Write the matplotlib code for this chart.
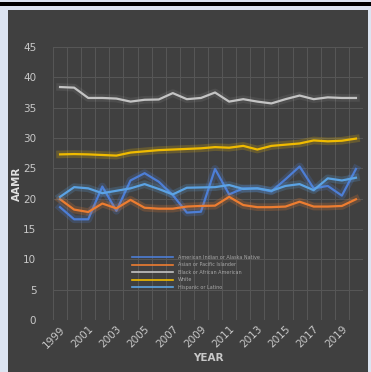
import numpy as np
import matplotlib
matplotlib.use("Agg")
import matplotlib.pyplot as plt
import matplotlib.patheffects as pe
from matplotlib.patches import Rectangle

# Data: age-adjusted mortality rate by race/ethnicity, 1999-2020

YEARS = list(range(1999, 2021))

AMERICAN_INDIAN = [18.6, 16.6, 16.6, 22.0, 18.0, 23.0, 24.2, 22.8, 20.6, 17.7, 17.85,
                   24.9, 20.7, 21.7, 21.7, 21.2, 23.2, 25.3, 21.7, 22.1, 20.5, 24.9]
ASIAN_PACIFIC   = [19.9, 18.2, 17.8, 19.2, 18.4, 19.8, 18.5, 18.35, 18.35, 18.7, 18.8,
                   18.85, 20.3, 18.95, 18.6, 18.6, 18.7, 19.5, 18.7, 18.7, 18.8, 19.9]
BLACK           = [38.4, 38.3, 36.6, 36.6, 36.5, 36.0, 36.3, 36.35, 37.4, 36.4, 36.6,
                   37.5, 36.0, 36.4, 36.0, 35.7, 36.4, 37.0, 36.4, 36.7, 36.6, 36.6]
WHITE           = [27.3, 27.35, 27.3, 27.2, 27.1, 27.6, 27.8, 28.0, 28.1, 28.2, 28.3,
                   28.5, 28.4, 28.7, 28.1, 28.7, 28.9, 29.1, 29.6, 29.45, 29.55, 29.9]
HISPANIC        = [20.3, 21.9, 21.7, 20.9, 21.3, 21.7, 22.4, 21.6, 20.7, 21.8, 21.85,
                   21.9, 22.25, 21.6, 21.7, 21.3, 22.1, 22.4, 21.4, 23.35, 23.0, 23.45]

SERIES = [
    ("American Indian or Alaska Native", AMERICAN_INDIAN, "#4d7ed6", 0.22),
    ("Asian or Pacific Islander",        ASIAN_PACIFIC,   "#ed7d31", 0.22),
    ("Black or African American",        BLACK,           "#c4c4c4", 0.10),
    ("White",                            WHITE,           "#f0bb00", 0.22),
    ("Hispanic or Latino",               HISPANIC,        "#5ba3e4", 0.22),
]

Y_TICKS = [0, 5, 10, 15, 20, 25, 30, 35, 40, 45]

PANEL  = "#404040"
TEXT   = "#c8c8c8"
GRID   = "#575757"

fig = plt.figure(figsize=(3.71, 3.72), dpi=100)
fig.patch.set_facecolor("#dce4f1")

# dark chart panel plus the thin black rule above it
fig.patches.append(Rectangle((8 / 371, 0), 360 / 371, 362 / 372,
                             transform=fig.transFigure, facecolor=PANEL,
                             edgecolor="none", zorder=-2))
fig.patches.append(Rectangle((0, 366 / 372), 1, 4 / 372,
                             transform=fig.transFigure, facecolor="#000000",
                             edgecolor="none", zorder=-2))

ax = fig.add_axes([53 / 371, 52 / 372, 310 / 371, 273 / 372])
ax.set_zorder(2)
ax.set_facecolor("none")

x = np.arange(len(YEARS))
for label, vals, color, glow in SERIES:
    ax.plot(x, vals, color=color, linewidth=1.6, label=label, zorder=3,
            solid_joinstyle="round",
            path_effects=[pe.Stroke(linewidth=5.5, foreground=color, alpha=glow),
                          pe.Normal()])

ax.set_xlim(-0.5, len(YEARS) - 0.5)
ax.set_ylim(0, 45)

# category-style grid: vertical lines between years, horizontal at each tick
for b in np.arange(-0.5, len(YEARS), 1.0):
    ax.axvline(b, color=GRID, linewidth=0.7, zorder=1)
for yv in Y_TICKS:
    ax.axhline(yv, color=GRID, linewidth=0.7, zorder=1)

ax.set_yticks(Y_TICKS)
ax.set_yticklabels([str(v) for v in Y_TICKS], color=TEXT, fontsize=7.5)
ax.set_xticks(x[::2])
ax.set_xticklabels([str(y) for y in YEARS[::2]], color=TEXT, fontsize=7.5,
                   rotation=45, ha="right", rotation_mode="anchor")
ax.tick_params(length=0)
ax.tick_params(axis="x", pad=3)
ax.tick_params(axis="y", pad=12)
for s in ax.spines.values():
    s.set_visible(False)

ax.set_xlabel("YEAR", color=TEXT, fontsize=7.5, fontweight="bold", labelpad=2)
ax.set_ylabel("AAMR", color="#e0e0e0", fontsize=7.5, fontweight="bold", labelpad=1)

leg = ax.legend(loc="lower left", bbox_to_anchor=(0.24, 0.095), frameon=False,
                fontsize=3.5, labelcolor="#a8a8a8", handlelength=8.5,
                handletextpad=1.0, labelspacing=0.5)
for h in leg.get_lines():
    h.set_linewidth(1.2)
    h.set_path_effects([])

fig.savefig("out.png", dpi=100, facecolor=fig.get_facecolor())
